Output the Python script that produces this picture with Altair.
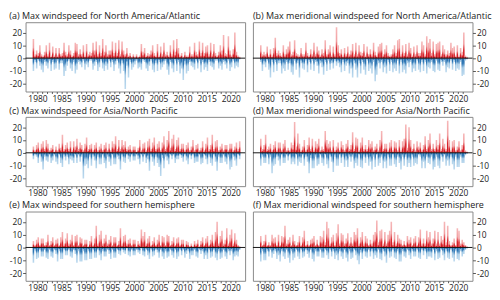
import altair as alt
import pandas as pd

YEARS = list(range(1979, 2022))
Y_TICKS = [-20, -10, 0, 10, 20]
X_DOMAIN = [1978.55, 2021.95]
Y_DOMAIN = [-26, 28]

TITLES = [
    "(a) Max windspeed for North America/Atlantic",
    "(b) Max meridional windspeed for North America/Atlantic",
    "(c) Max windspeed for Asia/North Pacific",
    "(d) Max meridional windspeed for Asia/North Pacific",
    "(e) Max windspeed for southern hemisphere",
    "(f) Max meridional windspeed for southern hemisphere",
]

# three values per year, 1979 ... 2021 (five years per line)
A_POS = [15, 3, 6, 4, 10, 3, 2, 5, 10, 3, 12, 2, 9, 2, 8,
         2, 8, 3, 4, 12, 5, 3, 10, 6, 2, 4, 12, 11, 3, 7,
         3, 10, 2, 11, 3, 5, 4, 12, 6, 13, 3, 10, 4, 15, 5,
         10, 3, 6, 6, 13, 4, 12, 4, 14, 3, 13, 6, 3, 8, 2,
         4, 1, 3, 1, 3, 1, 2, 11, 5, 8, 2, 4, 3, 6, 10,
         4, 2, 11, 2, 9, 3, 12, 3, 5, 2, 10, 3, 14, 5, 15,
         8, 2, 4, 1, 5, 2, 2, 9, 3, 3, 12, 5, 3, 13, 4,
         12, 4, 9, 10, 3, 12, 3, 11, 4, 2, 5, 10, 6, 18, 4,
         3, 17, 6, 2, 7, 20, 5, 2, 1]
A_NEG = [-10, -3, -8, -2, -6, -9, -11, -3, -6, -8, -2, -10, -3, -9, -8,
         -2, -9, -4, -4, -14, -10, -6, -2, -8, -10, -3, -12, -9, -3, -5,
         -7, -2, -9, -5, -7, -2, -2, -9, -6, -3, -10, -7, -2, -8, -10,
         -6, -9, -2, -7, -3, -10, -5, -2, -8, -12, -4, -10, -24, -6, -15,
         -3, -9, -7, -5, -2, -8, -7, -9, -2, -3, -8, -10, -6, -2, -9,
         -11, -4, -10, -3, -9, -7, -5, -2, -9, -13, -3, -8, -11, -2, -10,
         -3, -12, -8, -17, -5, -12, -10, -3, -6, -7, -9, -2, -8, -2, -11,
         -3, -9, -7, -10, -3, -6, -7, -9, -2, -2, -8, -6, -9, -3, -5,
         -8, -2, -10, -7, -2, -8, -6, -7, -1]

B_POS = [10, 3, 5, 3, 9, 2, 7, 2, 8, 16, 4, 6, 4, 2, 10,
         3, 7, 9, 13, 3, 5, 14, 4, 3, 2, 8, 3, 3, 12, 4,
         2, 7, 3, 12, 3, 9, 6, 2, 7, 4, 14, 3, 7, 10, 2,
         9, 3, 24, 10, 4, 7, 2, 8, 3, 9, 3, 6, 11, 3, 12,
         3, 10, 5, 4, 11, 2, 9, 3, 7, 3, 12, 5, 2, 9, 11,
         12, 3, 7, 10, 4, 2, 3, 7, 10, 4, 14, 15, 3, 10, 4,
         11, 3, 12, 8, 2, 9, 3, 10, 4, 4, 13, 10, 3, 17, 12,
         15, 4, 13, 3, 11, 12, 13, 3, 10, 7, 3, 6, 4, 12, 8,
         9, 2, 10, 2, 8, 5, 20, 2, 1]
B_NEG = [-3, -10, -5, -7, -2, -9, -15, -3, -11, -3, -10, -4, -4, -12, -8,
         -10, -3, -9, -4, -11, -13, -2, -9, -4, -15, -4, -8, -9, -2, -11,
         -3, -9, -2, -10, -3, -6, -12, -4, -7, -13, -3, -10, -2, -9, -4,
         -8, -2, -6, -4, -7, -11, -3, -10, -6, -4, -12, -8, -15, -4, -9,
         -15, -4, -12, -3, -9, -13, -2, -10, -8, -12, -3, -18, -13, -4, -8,
         -3, -11, -7, -12, -3, -10, -3, -11, -8, -10, -2, -12, -3, -11, -9,
         -12, -4, -7, -3, -11, -8, -10, -2, -9, -11, -3, -10, -3, -12, -7,
         -8, -3, -10, -11, -2, -9, -10, -3, -6, -3, -11, -7, -8, -2, -9,
         -3, -10, -8, -9, -3, -14, -13, -2, -1]

C_POS = [5, 2, 6, 8, 2, 7, 9, 3, 10, 7, 2, 4, 6, 1, 5,
         2, 7, 4, 14, 3, 6, 8, 3, 9, 2, 9, 5, 11, 3, 8,
         6, 2, 7, 12, 3, 6, 7, 2, 6, 8, 2, 5, 7, 2, 6,
         8, 2, 7, 2, 9, 7, 13, 3, 10, 3, 10, 6, 9, 3, 5,
         6, 2, 5, 5, 1, 4, 10, 2, 7, 8, 2, 9, 11, 3, 8,
         12, 3, 7, 9, 2, 8, 13, 3, 10, 17, 4, 11, 14, 3, 10,
         12, 3, 7, 7, 2, 6, 8, 2, 5, 10, 2, 6, 7, 2, 4,
         9, 2, 7, 12, 3, 6, 14, 3, 9, 10, 2, 5, 7, 2, 6,
         6, 2, 7, 7, 2, 5, 8, 3, 9]
C_NEG = [-5, -2, -3, -8, -2, -7, -13, -3, -6, -7, -2, -8, -6, -2, -7,
         -9, -2, -8, -11, -3, -6, -3, -9, -5, -6, -8, -2, -8, -2, -7,
         -3, -20, -10, -9, -12, -3, -10, -3, -6, -12, -3, -9, -9, -2, -8,
         -12, -3, -7, -10, -2, -9, -9, -3, -5, -13, -3, -7, -8, -2, -5,
         -7, -2, -6, -6, -2, -5, -9, -2, -7, -2, -8, -5, -14, -3, -7,
         -10, -3, -8, -11, -18, -4, -12, -3, -6, -9, -2, -5, -2, -8, -5,
         -5, -2, -4, -7, -2, -6, -9, -2, -5, -2, -8, -7, -7, -2, -9,
         -8, -2, -5, -9, -3, -8, -10, -2, -7, -14, -3, -8, -8, -2, -7,
         -9, -3, -13, -11, -3, -6, -10, -2, -5]

D_POS = [11, 3, 6, 14, 3, 5, 7, 2, 6, 9, 2, 8, 8, 2, 7,
         10, 2, 4, 2, 8, 6, 24, 5, 15, 7, 2, 5, 10, 2, 6,
         12, 3, 11, 2, 9, 7, 11, 2, 5, 3, 17, 10, 7, 9, 2,
         10, 2, 5, 8, 2, 9, 6, 2, 7, 10, 3, 6, 16, 3, 12,
         11, 2, 8, 12, 3, 6, 3, 10, 7, 9, 2, 5, 7, 2, 10,
         17, 3, 7, 7, 2, 8, 10, 2, 9, 8, 2, 10, 2, 9, 11,
         22, 4, 20, 10, 3, 7, 2, 9, 5, 8, 2, 6, 13, 3, 10,
         15, 3, 7, 3, 10, 6, 15, 3, 11, 7, 3, 25, 10, 2, 9,
         10, 2, 5, 9, 2, 6, 15, 2, 1]
D_NEG = [-10, -3, -8, -8, -2, -9, -3, -16, -10, -9, -3, -6, -10, -2, -8,
         -8, -2, -6, -2, -9, -7, -9, -2, -10, -7, -8, -2, -10, -3, -7,
         -16, -4, -12, -12, -3, -10, -9, -2, -8, -10, -2, -9, -12, -3, -7,
         -15, -3, -10, -10, -2, -8, -3, -11, -6, -11, -3, -7, -3, -12, -8,
         -10, -2, -11, -12, -3, -8, -3, -10, -7, -13, -3, -11, -2, -10, -8,
         -3, -12, -7, -12, -3, -10, -10, -2, -9, -11, -3, -8, -13, -3, -10,
         -3, -11, -8, -11, -3, -10, -8, -9, -2, -3, -12, -7, -12, -3, -8,
         -9, -3, -13, -11, -3, -10, -12, -3, -7, -2, -10, -6, -10, -3, -9,
         -13, -3, -11, -11, -3, -8, -8, -2, -1]

E_POS = [5, 2, 6, 8, 2, 7, 7, 2, 4, 10, 2, 5, 8, 2, 6,
         7, 2, 8, 12, 3, 7, 11, 3, 6, 10, 2, 9, 10, 2, 8,
         7, 2, 6, 6, 1, 5, 9, 2, 7, 17, 3, 10, 13, 3, 7,
         10, 3, 6, 9, 2, 8, 8, 2, 5, 15, 3, 9, 10, 3, 6,
         7, 2, 6, 6, 1, 5, 3, 14, 9, 12, 3, 7, 9, 2, 5,
         8, 2, 6, 10, 2, 9, 8, 2, 10, 9, 2, 5, 8, 2, 7,
         8, 2, 6, 6, 1, 5, 4, 1, 3, 1, 5, 3, 6, 1, 5,
         8, 2, 7, 9, 2, 6, 10, 3, 12, 20, 3, 9, 13, 3, 6,
         15, 3, 10, 14, 3, 11, 6, 2, 1]
E_NEG = [-12, -3, -9, -8, -2, -7, -7, -2, -8, -9, -2, -7, -8, -2, -5,
         -11, -3, -9, -9, -2, -6, -6, -2, -7, -8, -2, -5, -12, -3, -11,
         -11, -3, -10, -10, -3, -9, -9, -2, -8, -8, -2, -6, -10, -3, -7,
         -7, -2, -5, -9, -2, -8, -8, -2, -5, -6, -2, -4, -5, -1, -6,
         -7, -2, -6, -6, -2, -4, -5, -1, -6, -7, -2, -6, -9, -2, -7,
         -6, -2, -4, -8, -2, -7, -9, -3, -8, -7, -2, -6, -8, -2, -9,
         -7, -2, -6, -2, -8, -5, -3, -9, -6, -6, -2, -7, -8, -2, -5,
         -3, -9, -6, -9, -2, -8, -7, -2, -8, -10, -3, -9, -8, -2, -7,
         -9, -3, -6, -3, -10, -7, -6, -7, -2]

F_POS = [9, 2, 5, 10, 2, 4, 2, 10, 7, 8, 2, 10, 2, 9, 8,
         17, 3, 6, 8, 2, 10, 5, 2, 4, 9, 2, 8, 13, 2, 5,
         2, 6, 7, 9, 2, 6, 2, 9, 8, 13, 4, 20, 15, 3, 8,
         10, 2, 11, 18, 3, 11, 10, 3, 7, 11, 3, 8, 3, 12, 10,
         15, 3, 8, 12, 3, 9, 7, 2, 6, 3, 10, 12, 21, 4, 13,
         14, 3, 12, 3, 10, 13, 20, 4, 12, 3, 10, 7, 6, 2, 5,
         2, 9, 6, 8, 2, 7, 9, 2, 8, 14, 3, 7, 3, 13, 8,
         12, 3, 7, 13, 3, 12, 3, 9, 6, 20, 4, 17, 5, 2, 4,
         7, 2, 15, 13, 3, 6, 4, 2, 1]
F_NEG = [-11, -3, -10, -10, -3, -7, -2, -8, -5, -3, -9, -6, -11, -3, -7,
         -9, -2, -8, -12, -3, -10, -8, -2, -7, -9, -2, -8, -7, -2, -5,
         -8, -2, -9, -11, -3, -7, -7, -2, -8, -8, -2, -6, -9, -2, -7,
         -3, -9, -6, -10, -3, -7, -9, -2, -8, -11, -3, -9, -8, -2, -6,
         -10, -13, -4, -9, -3, -7, -8, -2, -7, -3, -9, -6, -8, -2, -9,
         -10, -3, -7, -12, -3, -8, -7, -2, -8, -9, -3, -11, -11, -3, -7,
         -8, -2, -6, -9, -3, -7, -7, -2, -8, -9, -2, -6, -3, -9, -7,
         -7, -8, -2, -10, -3, -9, -8, -2, -6, -10, -3, -8, -9, -2, -8,
         -11, -3, -9, -10, -3, -7, -5, -2, -1]

SERIES = [(A_POS, A_NEG), (B_POS, B_NEG), (C_POS, C_NEG),
          (D_POS, D_NEG), (E_POS, E_NEG), (F_POS, F_NEG)]

FONT = "Open Sans"
W, H = 225, 71

RED_FILL = alt.LinearGradient(
    gradient="linear", x1=0, x2=0, y1=1, y2=0,
    stops=[alt.GradientStop(color="#d0121b", offset=0),
           alt.GradientStop(color="#d8262d", offset=0.3),
           alt.GradientStop(color="#f2a0a2", offset=0.55),
           alt.GradientStop(color="#f6b8b9", offset=1)])
BLUE_FILL = alt.LinearGradient(
    gradient="linear", x1=0, x2=0, y1=0, y2=1,
    stops=[alt.GradientStop(color="#1f68a8", offset=0),
           alt.GradientStop(color="#2f78b6", offset=0.3),
           alt.GradientStop(color="#a3c9e5", offset=0.55),
           alt.GradientStop(color="#bcd9ee", offset=1)])


def panel(title, pos, neg, right):
    t = [y + (k + 0.5) / 3 for y in YEARS for k in range(3)]
    df = pd.DataFrame({"t": t, "pos": pos, "neg": neg})
    xs = alt.Scale(domain=X_DOMAIN, nice=False, zero=False)
    ys = alt.Scale(domain=Y_DOMAIN, nice=False, zero=False)
    xaxis = alt.Axis(values=YEARS, format="d",
                     labelExpr="datum.value % 5 == 0 ? datum.label : ''",
                     tickSize=2, tickColor="#555", domain=False, grid=False,
                     title=None, labelPadding=1, labelFontSize=8.6,
                     labelColor="#222", labelFont=FONT)
    yaxis = alt.Axis(values=Y_TICKS, orient="right" if right else "left",
                     labelExpr="toString(datum.value)", tickSize=3,
                     tickColor="#555", domain=False, grid=False, title=None,
                     labelPadding=1, labelFontSize=8.6, labelColor="#222",
                     labelFont=FONT)
    base = alt.Chart(df)
    negb = base.mark_bar(width=1.6, color=BLUE_FILL, clip=True).encode(
        x=alt.X("t:Q", scale=xs, axis=xaxis),
        y=alt.Y("neg:Q", scale=ys, axis=yaxis),
    )
    posb = base.mark_bar(width=1.6, color=RED_FILL, clip=True).encode(
        x=alt.X("t:Q", scale=xs, axis=xaxis),
        y=alt.Y("pos:Q", scale=ys, axis=yaxis),
    )
    zero = alt.Chart(pd.DataFrame({"z": [0]})).mark_rule(
        color="#111", strokeWidth=1).encode(y=alt.Y("z:Q", scale=ys, axis=yaxis))
    return alt.layer(negb, posb, zero).properties(
        width=W, height=H,
        title=alt.TitleParams(title, anchor="start",
                              frame="group" if right else "bounds",
                              fontSize=9.2, font=FONT, fontWeight="normal",
                              color="#222", offset=1),
    )


panels = [panel(TITLES[i], SERIES[i][0], SERIES[i][1], i % 2 == 1)
          for i in range(6)]
rows = [alt.hconcat(panels[2 * r], panels[2 * r + 1], spacing=6)
        for r in range(3)]
chart = alt.vconcat(*rows, spacing=2).properties(padding=0).configure_view(
    stroke="#888", strokeWidth=1
)

chart.save("out.html", embed_options={"renderer": "svg", "actions": False})
